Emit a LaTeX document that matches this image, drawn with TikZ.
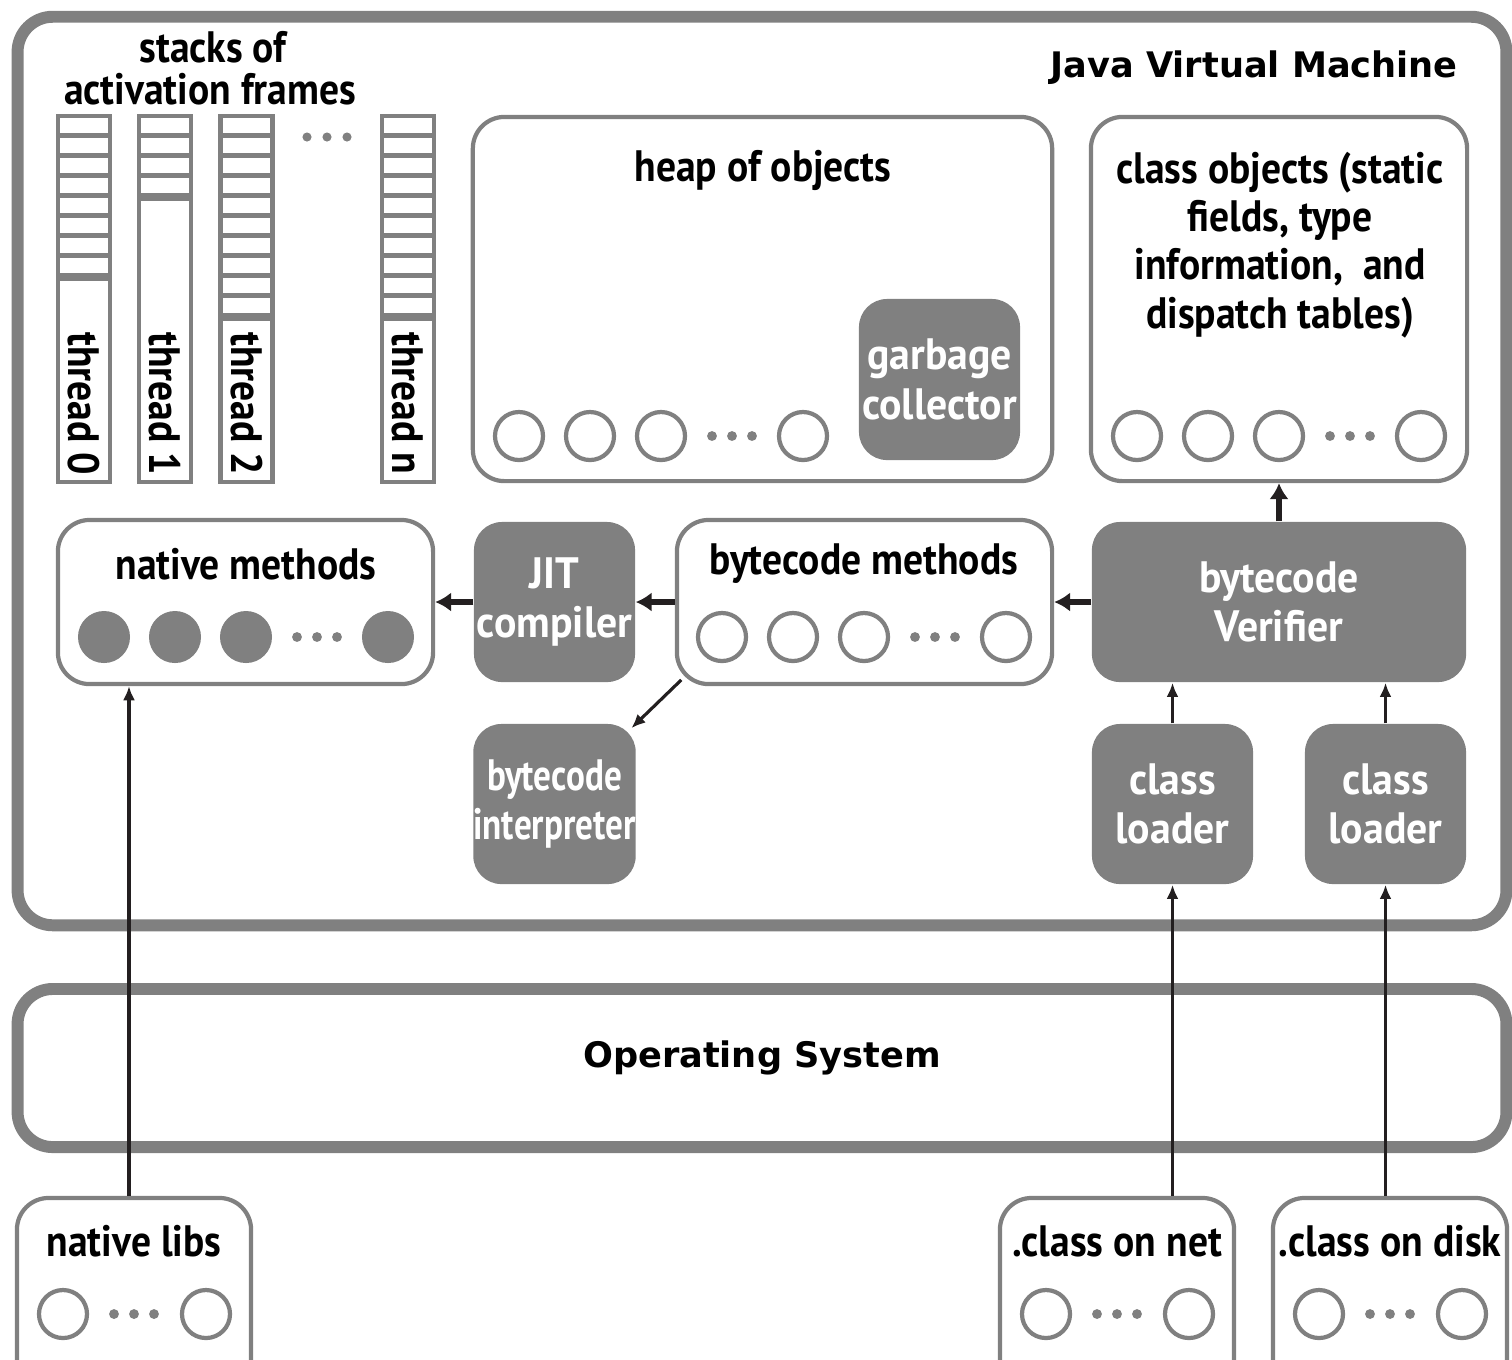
\documentclass[tikz,border=0pt]{standalone}
\usepackage{fontspec}
\setmainfont{PT Sans}
\newfontfamily\labelfont[FakeStretch=0.9]{PT Sans Bold}
\newfontfamily\unitfont[FakeStretch=0.95]{PT Sans Bold}
\newfontfamily\narrowfont[FakeStretch=0.8]{PT Sans Bold}
\newfontfamily\titlefont{DejaVu Sans Bold}
\usetikzlibrary{arrows.meta,positioning}

\definecolor{boxgray}{HTML}{808080}
\definecolor{ink}{HTML}{231F20}

\tikzset{
  frame/.style={draw=boxgray, line width=3.4pt, rounded corners=10pt},
  panel/.style={draw=boxgray, line width=1.2pt, rounded corners=9pt, fill=white},
  unit/.style={fill=boxgray, rounded corners=8pt, text=white, align=center,
    font=\fontsize{12.5}{14}\unitfont, minimum width=1.61cm, minimum height=1.6cm, inner sep=0pt},
  label/.style={font=\fontsize{12.5}{13.7}\labelfont, text=black, inner sep=1pt},
  title/.style={font=\fontsize{10}{12}\titlefont, text=black},
  obj/.style={circle, draw=boxgray, line width=1.2pt, minimum size=0.48cm, inner sep=0pt},
  fullobj/.style={circle, fill=boxgray, minimum size=0.52cm, inner sep=0pt},
  stackline/.style={draw=boxgray, line width=1.4pt},
  bigflow/.style={draw=ink, line width=1.8pt, -{Latex[length=4.5pt,width=5.5pt]}},
  flow/.style={draw=ink, line width=0.9pt, -{Latex[length=4pt,width=3.4pt]}}
}

\begin{document}
\begin{tikzpicture}[x=0.01cm,y=-0.01cm]
\useasboundingbox (0,0) rectangle (1512,1359);
\clip (0,0) rectangle (1512,1359);

% machine and system frames
\node[frame, minimum width=14.88cm, minimum height=9.08cm] (jvm) at (762,471) {};
\node[frame, minimum width=14.88cm, minimum height=1.58cm] (os) at (762,1068) {};
\node[title, anchor=east] (jvmtitle) at (1470,68) {Java Virtual Machine};
\node[title] (ostitle) at (762,1058) {Operating System};

% stacks
\node[label, inner sep=0pt] (stacktitle) at (213,47) {stacks of};
\node[label, inner sep=0pt] (stacktitle2) at (210,89) {activation frames};
\foreach \cx/\tn/\cells in {84/0/8, 165/1/4, 246.5/2/10, 408/n/10} {
  \draw[stackline] (\cx-26,116) rectangle (\cx+26,482);
  \foreach \c in {1,...,\cells}
    \fill[boxgray] (\cx-26,118+20*\c-5) rectangle (\cx+26,118+20*\c);
  \fill[boxgray] (\cx-26,118+20*\cells) rectangle (\cx+26,118+20*\cells+3);
  \node[label, rotate=-90, anchor=west] (thread\tn) at (\cx,328) {thread \tn};
}
\foreach \x in {307,327,347} \fill[boxgray] (\x,137) circle (1.3pt);

% heap
\node[panel, minimum width=5.79cm, minimum height=3.64cm] (heap) at (762.5,299) {};
\node[label] (heaptitle) at (763,170) {heap of objects};
\node[unit, minimum height=1.61cm] (gc) at (939.5,379.5) {garbage\\collector};
\foreach \x [count=\i] in {519,590,661,803} \node[obj] (hobj\i) at (\x,436) {};
\foreach \x in {712,732,752} \fill[boxgray] (\x,436) circle (1.4pt);

% class objects
\node[panel, minimum width=3.76cm, minimum height=3.64cm] (classobj) at (1279,299) {};
\node[label, align=center] (classtitle) at (1280,245) {class objects (static\\fields, type\\information,~ and\\dispatch tables)};
\foreach \x [count=\i] in {1137,1208,1279,1421} \node[obj] (cobj\i) at (\x,436) {};
\foreach \x in {1330,1350,1370} \fill[boxgray] (\x,436) circle (1.4pt);

% native methods
\node[panel, minimum width=3.75cm, minimum height=1.64cm] (natmeth) at (245.5,602) {};
\node[label] (nattitle) at (246,564) {native methods};
\foreach \x [count=\i] in {104,175,246,388} \node[fullobj] (nobj\i) at (\x,637) {};
\foreach \x in {297,317,337} \fill[boxgray] (\x,637) circle (1.4pt);

% bytecode methods
\node[panel, minimum width=3.75cm, minimum height=1.64cm] (bcmeth) at (864.5,602) {};
\node[label] (bctitle) at (864,564) {bytecode methods};
\foreach \x [count=\i] in {722,793,864,1006} \node[obj] (bobj\i) at (\x,637) {};
\foreach \x in {915,935,955} \fill[boxgray] (\x,637) circle (1.4pt);

% engine units
\node[unit] (jit) at (554.5,602) {JIT\\compiler};
\node[unit, minimum width=3.74cm] (verifier) at (1279,602) {bytecode\\Verifier};
\node[unit, font=\fontsize{12.5}{14}\narrowfont] (interp) at (554.5,804) {bytecode\\interpreter};
\node[unit] (loader1) at (1172.5,804) {class\\loader};
\node[unit] (loader2) at (1385.5,804) {class\\loader};

% sources
\node[panel, minimum width=2.34cm, minimum height=2cm] (nlibs) at (134,1298) {};
\node[label] (nlibstitle) at (134,1241) {native libs};
\node[obj] (lobj1) at (63,1314) {};
\node[obj] (lobj2) at (206,1314) {};
\node[panel, minimum width=2.34cm, minimum height=2cm] (classnet) at (1117,1298) {};
\node[label] (nettitle) at (1117,1241) {.class on net};
\node[obj] (tobj1) at (1046,1314) {};
\node[obj] (tobj2) at (1189,1314) {};
\node[panel, minimum width=2.34cm, minimum height=2cm] (classdisk) at (1390,1298) {};
\node[label] (disktitle) at (1390,1241) {.class on disk};
\node[obj] (dobj1) at (1319,1314) {};
\node[obj] (dobj2) at (1462,1314) {};
\foreach \cx in {134,1117,1390}
  \foreach \d in {-20,0,20} \fill[boxgray] (\cx+\d,1314) circle (1.4pt);

% connectors
\draw[bigflow] (verifier.west) -- (bcmeth.east);
\draw[bigflow] (bcmeth.west) -- (jit.east);
\draw[bigflow] (jit.west) -- (natmeth.east);
\draw[bigflow] (verifier.north) -- (classobj.south);
\draw[flow, shorten <=-0.09cm, shorten >=-0.07cm] (bcmeth.south west) -- (interp.north east);
\draw[flow] (loader1.north) -- (loader1.north |- verifier.south);
\draw[flow] (loader2.north) -- (loader2.north |- verifier.south);
\draw[flow] (loader1.south |- classnet.north) -- (loader1.south);
\draw[flow] (loader2.south |- classdisk.north) -- (loader2.south);
\draw[flow] ([xshift=-0.05cm]nlibs.north) -- ([xshift=-0.05cm]nlibs.north |- natmeth.south);

\end{tikzpicture}
\end{document}
